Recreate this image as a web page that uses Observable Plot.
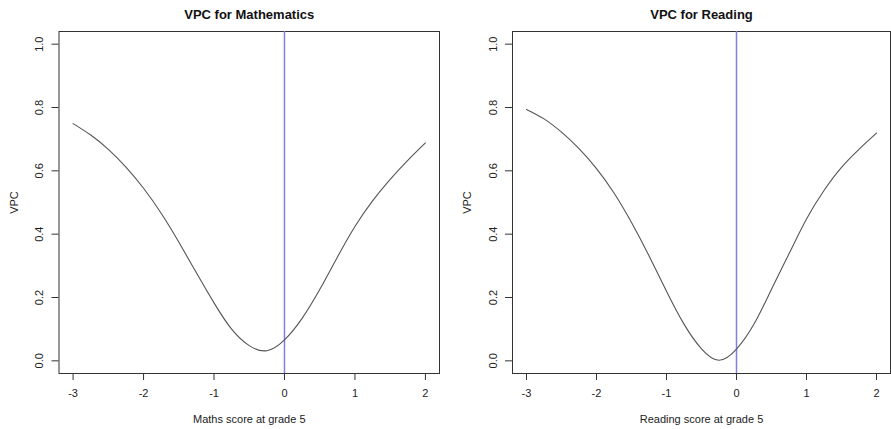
<!DOCTYPE html>
<html>
<head>
<meta charset="utf-8">
<script src="https://cdn.jsdelivr.net/npm/d3@7"></script>
<script src="https://cdn.jsdelivr.net/npm/@observablehq/plot@0.6"></script>
<style>
  html, body { margin: 0; padding: 0; background: #fff; }
  #chart { position: relative; width: 891px; height: 429px; overflow: hidden; background: #fff; }
  #chart > div { position: absolute; top: 0; width: 446px; height: 429px; }
  #chart svg { max-width: none !important; height: 429px !important; }
</style>
</head>
<body>
<div id="chart"></div>
<script>
// ---- data ----
const scoreGrid = [-3, -2.75, -2.5, -2.25, -2, -1.75, -1.5, -1.25, -1, -0.75, -0.5, -0.25, 0, 0.25, 0.5, 0.75, 1, 1.25, 1.5, 1.75, 2];
const mathsVPC  = [0.749, 0.713, 0.668, 0.612, 0.545, 0.466, 0.375, 0.278, 0.183, 0.100, 0.048, 0.032, 0.066, 0.134, 0.225, 0.327, 0.424, 0.505, 0.573, 0.633, 0.688];
const readingVPC = [0.794, 0.764, 0.722, 0.670, 0.607, 0.530, 0.437, 0.332, 0.220, 0.116, 0.038, 0.002, 0.037, 0.116, 0.226, 0.338, 0.448, 0.538, 0.611, 0.668, 0.719];
const xTicks = [-3, -2, -1, 0, 1, 2];
const yTicks = [0, 0.2, 0.4, 0.6, 0.8, 1.0];
const referenceScore = [0];
const panelTitles = ["VPC for Mathematics", "VPC for Reading"];
const xLabels = ["Maths score at grade 5", "Reading score at grade 5"];
const yLabel = "VPC";

const FONT = "'Liberation Sans', Arial, Helvetica, sans-serif";

function panel(values, title, xLabel, opts) {
  const data = scoreGrid.map((x, i) => ({x, v: values[i]}));
  return Plot.plot({
    width: opts.width,
    height: 429,
    marginLeft: opts.marginLeft,
    marginRight: opts.marginRight,
    marginTop: 31,
    marginBottom: 56,
    style: {fontFamily: FONT, background: "transparent", color: "#222", maxWidth: "none"},
    x: {domain: [-3.2, 2.2], axis: null},
    y: {domain: [-0.04, 1.04], axis: null},
    marks: [
      Plot.frame({stroke: "#333", strokeWidth: 1}),
      Plot.axisX(xTicks, {tickSize: 7, fill: "none", stroke: "#333", label: null}),
      Plot.axisY(yTicks, {tickSize: 7, fill: "none", stroke: "#333", label: null}),
      Plot.text(xTicks, {x: d => d, text: d => String(d), frameAnchor: "bottom", dy: 20, lineAnchor: "middle", fontSize: 11, fill: "#222"}),
      Plot.text(yTicks, {y: d => d, text: d => d.toFixed(1), frameAnchor: "left", dx: -19.5, rotate: -90, lineAnchor: "middle", textAnchor: "middle", fontSize: 11, fill: "#222"}),
      Plot.ruleX(referenceScore, {stroke: "#7f7fe6", strokeWidth: 1.5}),
      Plot.line(data, {x: "x", y: "v", stroke: "#555", strokeWidth: 1.1, curve: "natural"}),
      Plot.text([title], {text: d => d, frameAnchor: "top", dy: -17, lineAnchor: "middle", fontSize: 13, fontWeight: "bold", fill: "#111"}),
      Plot.text([xLabel], {text: d => d, frameAnchor: "bottom", dy: 46, lineAnchor: "middle", fontSize: 11, fill: "#222"}),
      Plot.text([yLabel], {text: d => d, frameAnchor: "left", dx: -45, rotate: -90, lineAnchor: "middle", textAnchor: "middle", fontSize: 11, fill: "#222"})
    ]
  });
}

const chart = document.getElementById("chart");
const left = document.createElement("div");
left.style.left = "0px";
left.appendChild(panel(mathsVPC, panelTitles[0], xLabels[0], {width: 446, marginLeft: 58.5, marginRight: 7}));
const right = document.createElement("div");
right.style.left = "453px";
right.appendChild(panel(readingVPC, panelTitles[1], xLabels[1], {width: 446, marginLeft: 59, marginRight: 9}));
chart.appendChild(left);
chart.appendChild(right);
</script>
</body>
</html>
